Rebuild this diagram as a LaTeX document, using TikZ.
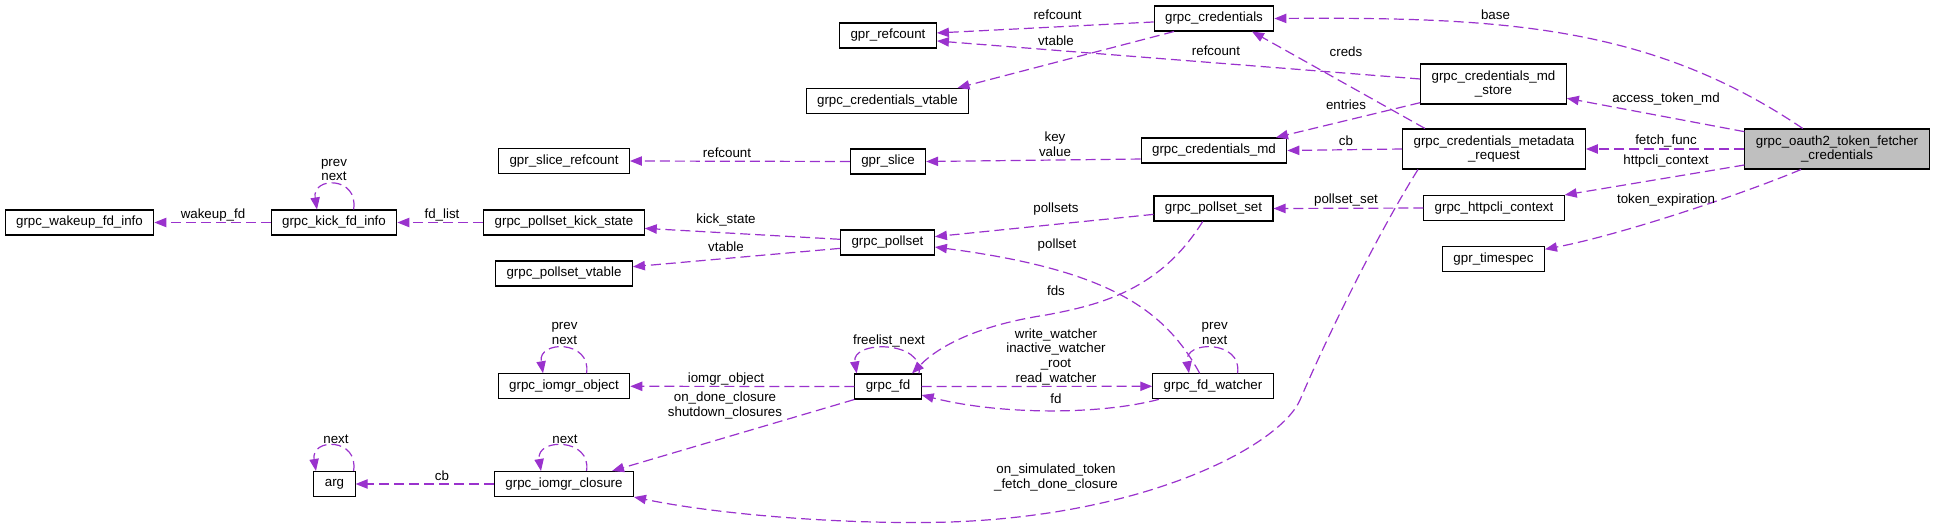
\documentclass[tikz,border=0pt]{standalone}
\usepackage{fontspec}
\setmainfont{Liberation Sans}
\usetikzlibrary{arrows.meta}
\definecolor{edgepurple}{RGB}{154,50,205}
\definecolor{focusgrey}{RGB}{191,191,191}
\tikzset{
  cls/.style={draw=black, line width=0.8pt, fill=white, align=center,
              font=\fontsize{10}{11}\selectfont, inner xsep=8.2pt, inner ysep=2pt, minimum height=18.75pt},
  cls2/.style={cls, minimum height=30pt},
  focus/.style={cls2, fill=focusgrey},
  member/.style={-{Triangle[length=9pt,width=7pt]}, draw=edgepurple, line width=0.9pt,
                 dash pattern=on 7.5pt off 3.75pt},
  lbl/.style={font=\fontsize{10}{11}\selectfont, align=center, inner sep=0pt},
}

\begin{document}
\begin{tikzpicture}[x=0.75pt, y=-0.75pt]
\useasboundingbox (0,0) rectangle (1935,528);
% classes
\node[cls] (wakeup) at (79.5,222.5) {grpc\_wakeup\_fd\_info};
\node[cls] (kfd) at (334,222.5) {grpc\_kick\_fd\_info};
\node[cls] (kickst) at (564,222.5) {grpc\_pollset\_kick\_state};
\node[cls] (srefc) at (564,161) {gpr\_slice\_refcount};
\node[cls] (pvt) at (564,273.5) {grpc\_pollset\_vtable};
\node[cls] (iobj) at (564,386.3) {grpc\_iomgr\_object};
\node[cls] (arg) at (334.5,484) {arg};
\node[cls] (closure) at (564,484) {grpc\_iomgr\_closure};
\node[cls] (refc) at (888,35.5) {gpr\_refcount};
\node[cls] (credvt) at (887.5,101) {grpc\_credentials\_vtable};
\node[cls] (slice) at (888,161.5) {gpr\_slice};
\node[cls] (pollset) at (887.5,242.5) {grpc\_pollset};
\node[cls] (fd) at (888,386.5) {grpc\_fd};
\node[cls] (creds) at (1214,18.5) {grpc\_credentials};
\node[cls] (credmd) at (1214,150.5) {grpc\_credentials\_md};
\node[cls] (pset) at (1213.5,208.5) {grpc\_pollset\_set};
\node[cls] (fdw) at (1213,386.3) {grpc\_fd\_watcher};
\node[cls2] (store) at (1493.5,84) {grpc\_credentials\_md\\\_store};
\node[cls2] (req) at (1494,149) {grpc\_credentials\_metadata\\\_request};
\node[cls] (httpcli) at (1494,208) {grpc\_httpcli\_context};
\node[cls] (timespec) at (1493.5,259) {gpr\_timespec};
\node[focus] (oauth) at (1837,149) {grpc\_oauth2\_token\_fetcher\\\_credentials};

% members
\draw[member] ([yshift=-2.6pt]creds.west) -- ([yshift=1.9pt]refc.east);
\draw[member] ([xshift=-30pt]creds.south) -- ([xshift=52.5pt]credvt.north);
\draw[member] ([yshift=3.75pt]store.west) -- ([yshift=-4.1pt]refc.east);
\draw[member] ([yshift=-14pt]store.west) -- ([xshift=46.5pt]credmd.north);
\draw[member] ([xshift=-51.75pt]req.north) -- ([xshift=28.5pt]creds.south);
\draw[member] (req.west) -- (credmd.east);
\draw[member] ([yshift=-6.4pt]credmd.west) -- (slice.east);
\draw[member] (slice.west) -- (srefc.east);
\draw[member] ([xshift=-25.7pt]oauth.north) .. controls (1650,25) and (1500,17) .. (creds.east);
\draw[member] ([yshift=13pt]oauth.west) -- ([yshift=-10.7pt]store.east);
\draw[member] (oauth.west) -- (req.east);
\draw[member] ([yshift=-12pt]oauth.west) -- (httpcli.north east);
\draw[member] ([xshift=-27pt]oauth.south) .. controls (1740,195) and (1620,235) .. ([yshift=7.3pt]timespec.east);
\draw[member] ([xshift=-57pt]req.south) .. controls (1380,230) and (1330,330) .. (1300,400)
  .. controls (1280,445) and (1150,515) .. (950,522)
  .. controls (850,525) and (720,515) .. (closure.south east);
\draw[member] (httpcli.west) -- (pset.east);
\draw[member] ([yshift=-4.4pt]pset.west) -- ([yshift=4.4pt]pollset.east);
\draw[member] ([xshift=-8.1pt]pset.south) .. controls (1160,290) and (1100,305) .. (1046,315)
  .. controls (980,325) and (940,345) .. ([xshift=18pt]fd.north);
\draw[member] ([xshift=-10pt]fdw.north) .. controls (1165,310) and (1110,270) .. ([yshift=-3.4pt]pollset.east);
\draw[member] ([yshift=2.4pt]pollset.west) -- ([yshift=-4.4pt]kickst.east);
\draw[member] ([yshift=-4.4pt]pollset.west) -- ([yshift=5.1pt]pvt.east);
\draw[member] (kickst.west) -- (kfd.east);
\draw[member] (kfd.west) -- (wakeup.east);
\draw[member] (fd.west) -- (iobj.east);
\draw[member] (fd.south west) -- ([xshift=36pt]closure.north);
\draw[member] (fd.east) -- (fdw.west);
\draw[member] ([xshift=5pt]fdw.south west) .. controls (1100,415) and (1000,415) .. ([yshift=-6.4pt]fd.east);
\draw[member] (closure.west) -- (arg.east);
% self references
\draw[member] ([xshift=14.7pt]kfd.north) .. controls +(4pt,25pt) and +(-4pt,25pt) .. ([xshift=-12.75pt]kfd.north);
\draw[member] ([xshift=16.9pt]iobj.north) .. controls +(4pt,25pt) and +(-4pt,25pt) .. ([xshift=-15.75pt]iobj.north);
\draw[member] ([xshift=14.3pt]arg.north) .. controls +(4pt,25pt) and +(-4pt,25pt) .. ([xshift=-13.9pt]arg.north);
\draw[member] ([xshift=16.9pt]closure.north) .. controls +(4pt,25pt) and +(-4pt,25pt) .. ([xshift=-17.25pt]closure.north);
\draw[member] ([xshift=23.25pt]fd.north) .. controls +(4pt,25pt) and +(-4pt,25pt) .. ([xshift=-23.5pt]fd.north);
\draw[member] ([xshift=18.4pt]fdw.north) .. controls +(4pt,25pt) and +(-4pt,25pt) .. ([xshift=-18pt]fdw.north);

% member names
\node[lbl] (lRefcountCreds) at (1057.6,15) {refcount};
\node[lbl] (lVtableCreds) at (1056,40.7) {vtable};
\node[lbl] (lRefcountStore) at (1216,50.7) {refcount};
\node[lbl] (lBase) at (1495.5,15) {base};
\node[lbl] (lCreds) at (1346,51.7) {creds};
\node[lbl] (lAccessToken) at (1666,99) {access\_token\_md};
\node[lbl] (lEntries) at (1346,105) {entries};
\node[lbl] (lKeyValue) at (1055,144.5) {key\\value};
\node[lbl] (lCbReq) at (1346,140.7) {cb};
\node[lbl] (lFetchFunc) at (1666,140.7) {fetch\_func};
\node[lbl] (lHttpcli) at (1666,160.7) {httpcli\_context};
\node[lbl] (lRefcountSlice) at (727,152.7) {refcount};
\node[lbl] (lPollsetSet) at (1346,200) {pollset\_set};
\node[lbl] (lTokenExp) at (1666,200) {token\_expiration};
\node[lbl] (lPollsets) at (1056,209) {pollsets};
\node[lbl] (lKickState) at (726,220) {kick\_state};
\node[lbl] (lVtablePollset) at (726,246.7) {vtable};
\node[lbl] (lPollset) at (1057,245) {pollset};
\node[lbl] (lWakeup) at (213,215) {wakeup\_fd};
\node[lbl] (lFdList) at (442,215) {fd\_list};
\node[lbl] (lKfdLoop) at (334,170) {prev\\next};
\node[lbl] (lFds) at (1056,290.7) {fds};
\node[lbl] (lIobjLoop) at (564.5,333.7) {prev\\next};
\node[lbl] (lFreelist) at (889,340.7) {freelist\_next};
\node[lbl] (lWatchers) at (1056,356.7) {write\_watcher\\inactive\_watcher\\\_root\\read\_watcher};
\node[lbl] (lFdwLoop) at (1214.7,333.8) {prev\\next};
\node[lbl] (lIomgrObj) at (726,379) {iomgr\_object};
\node[lbl] (lClosures) at (725,405.7) {on\_done\_closure\\shutdown\_closures};
\node[lbl] (lFd) at (1056,398.3) {fd};
\node[lbl] (lArgLoop) at (336,439) {next};
\node[lbl] (lClosureLoop) at (565,439) {next};
\node[lbl] (lCbArg) at (442,476) {cb};
\node[lbl] (lSimulated) at (1056,477.7) {on\_simulated\_token\\\_fetch\_done\_closure};
\end{tikzpicture}
\end{document}
